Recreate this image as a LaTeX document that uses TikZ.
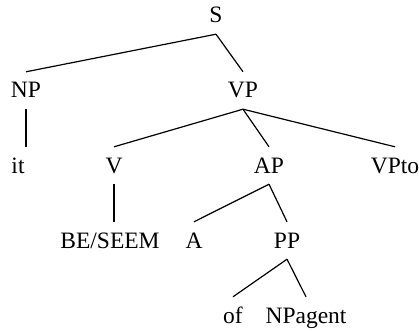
\documentclass[tikz,border=0pt]{standalone}
\usepackage{fontspec}
\setmainfont{Liberation Serif}
\begin{document}
\begin{tikzpicture}[x=1pt,y=-1pt,
  lbl/.style={anchor=base,inner xsep=0pt,inner ysep=11pt,text height=15pt,text depth=0pt,
    font=\fontsize{23.5}{26}\selectfont},
  edge/.style={line width=1.2pt}]
\useasboundingbox (0,0) rectangle (419,331);
\node[lbl] (S) at (216,23) {S};
\node[lbl] (NP) at (26,98) {NP};
\node[lbl] (VP) at (243,98) {VP};
\node[lbl] (it) at (18,173) {it};
\node[lbl] (V) at (114,173) {V};
\node[lbl] (AP) at (269,173) {AP};
\node[lbl] (VPto) at (395,173) {VPto};
\node[lbl] (BE) at (110,248) {BE/SEEM};
\node[lbl] (A) at (194,248) {A};
\node[lbl] (PP) at (287,248) {PP};
\node[lbl] (of) at (233,323) {of};
\node[lbl] (NPa) at (306,323) {NPagent};
\draw[edge] (S.south) -- (NP.north);
\draw[edge] (S.south) -- (VP.north);
\draw[edge] (NP.south) -- (NP.south |- it.north);
\draw[edge] (VP.south) -- (V.north);
\draw[edge] (VP.south) -- (AP.north);
\draw[edge] (VP.south) -- (VPto.north);
\draw[edge] (V.south) -- (BE.north -| V.south);
\draw[edge] (AP.south) -- (A.north);
\draw[edge] (AP.south) -- (PP.north);
\draw[edge] (PP.south) -- (of.north);
\draw[edge] (PP.south) -- (NPa.north);
\end{tikzpicture}
\end{document}
